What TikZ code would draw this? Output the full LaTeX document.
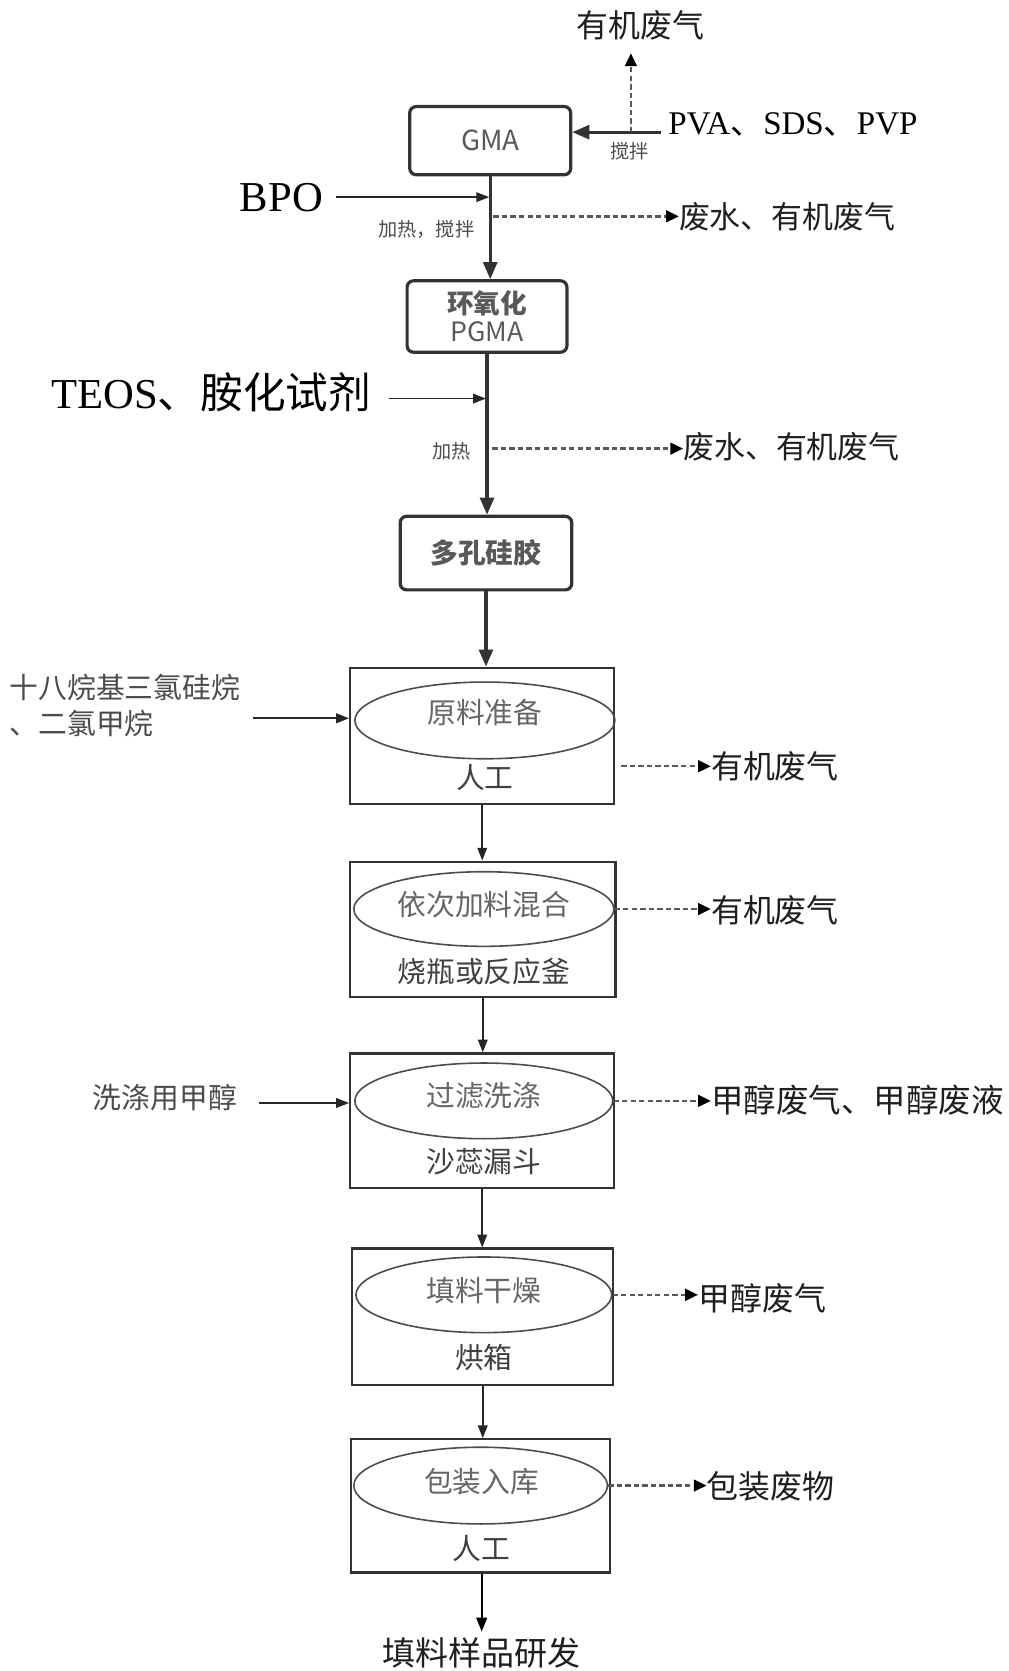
\documentclass[tikz,border=0pt]{standalone}
\usepackage{fontspec}
\setmainfont{Liberation Serif}
\newfontfamily\cjk{Noto Sans CJK SC}
\usetikzlibrary{arrows.meta,shapes.geometric}
\begin{document}
\begin{tikzpicture}[x=1pt,y=-1pt,
  topbox/.style={draw=black!80, line width=3pt, rounded corners=6pt, inner sep=0pt,
     font=\cjk\fontsize{26}{30}\selectfont, text=black!65, align=center},
  procbox/.style={draw=black!80, line width=2pt, inner sep=0pt},
  ell/.style={ellipse, draw=black!70, line width=1.5pt, inner sep=0pt},
  intext/.style={font=\cjk\fontsize{27}{30}\selectfont, text=black!60},
  labtext/.style={font=\cjk\fontsize{27}{30}\selectfont, text=black!75},
  outtext/.style={font=\cjk\fontsize{30}{34}\selectfont, text=black!88, anchor=west, inner sep=0pt},
  lefttext/.style={font=\cjk\fontsize{27}{34}\selectfont, text=black!70, inner sep=0pt},
  smalltext/.style={font=\cjk\fontsize{18}{22}\selectfont, text=black!70},
  bigarr/.style={draw=black!80, line width=3pt, -{Triangle[length=16pt,width=13pt]}},
  arr/.style={draw=black!85, line width=1.6pt, -{Triangle[length=12pt,width=9pt]}},
  darr/.style={draw=black!65, line width=2.3pt, dash pattern=on 5pt off 3pt,
     -{Triangle[length=12pt,width=11pt,color=black]}}
]
\path[use as bounding box, fill=white] (0,0) rectangle (946,1568);

% ---------- upper part ----------
\node[outtext, anchor=center] (og0) at (601,24) {有机废气};
\node[topbox, minimum width=151pt, minimum height=64pt] (gma) at (460,132) {GMA};
\node[font=\fontsize{31}{36}\selectfont, anchor=west, inner sep=0pt] (pva) at (627,117) {PVA{\cjk 、}SDS{\cjk 、}PVP};
\node[smalltext] (jb) at (591,142) {搅拌};
\coordinate (pvaA) at (620,124);
\coordinate (pvaJ) at (592,124);
\coordinate (og0in) at (592,50);
\draw[bigarr] (pvaA) -- (pvaA -| gma.east);
\draw[darr, line width=1.8pt] (pvaJ) -- (og0in);

\node[topbox, minimum width=150pt, minimum height=67pt, font=\cjk\bfseries\fontsize{25}{30}\selectfont] (pgma) at (457,297) {环氧化\\[-4pt]{\mdseries PGMA}};
\node[font=\fontsize{40}{44}\selectfont, anchor=west, inner sep=0pt] (bpo) at (225,185) {BPO};
\coordinate (bpoA) at (315,185);
\coordinate (bpoJ) at (459,185);
\draw[arr, line width=1.4pt] (bpoA) -- (bpoJ);
\draw[bigarr] (gma.south) -- (gma.south |- pgma.north);
\node[smalltext] (jr1) at (400,215) {加热，搅拌};
\coordinate (w1s) at (463,203);
\node[outtext, font=\cjk\fontsize{29}{34}\selectfont] (w1) at (637,203) {废水、有机废气};
\draw[darr] (w1s) -- (w1s -| w1.west);

\node[topbox, minimum width=161pt, minimum height=69pt, font=\cjk\bfseries\fontsize{26}{30}\selectfont] (sil) at (456,519) {多孔硅胶};
\node[font=\fontsize{40}{44}\selectfont, anchor=west, inner sep=0pt] (teos) at (48,368) {TEOS{\cjk 、胺化试剂}};
\coordinate (teosA) at (365,374);
\coordinate (teosJ) at (456,374);
\draw[arr, line width=1.4pt] (teosA) -- (teosJ);
\draw[bigarr] (pgma.south) -- (pgma.south |- sil.north);
\node[smalltext] (jr2) at (424,423) {加热};
\coordinate (w2s) at (462,421);
\node[outtext, font=\cjk\fontsize{29}{34}\selectfont] (w2) at (641,419) {废水、有机废气};
\draw[darr] (w2s) -- (w2s -| w2.west);

% ---------- process boxes ----------
\node[procbox, minimum width=248pt, minimum height=128pt] (b1) at (452.5,690.5) {};
\node[ell, minimum width=244pt, minimum height=72pt] (e1) at (455,676) {};
\node[intext] (t1) at (455,669) {原料准备};
\node[labtext] (l1) at (455,730) {人工};
\draw[bigarr] (sil.south) -- (sil.south |- b1.north);

\node[lefttext, align=left, anchor=north west] (raw) at (9,632) {十八烷基三氯硅烷\\、二氯甲烷};
\coordinate (rawA) at (237,674);
\draw[arr] (rawA) -- (rawA -| b1.west);
\coordinate (o1s) at (583,719);
\node[outtext] (o1) at (667,719) {有机废气};
\draw[darr] (o1s) -- (o1s -| o1.west);

\node[procbox, minimum width=249pt, minimum height=127pt] (b2) at (453,872) {};
\node[ell, minimum width=244pt, minimum height=70pt] (e2) at (454,853) {};
\node[intext] (t2) at (454,849) {依次加料混合};
\node[labtext] (l2) at (454,912) {烧瓶或反应釜};
\draw[arr] (b1.south) -- (b1.south |- b2.north);
\node[outtext] (o2) at (667,854) {有机废气};
\draw[darr] (e2.east) -- (e2.east -| o2.west);

\node[procbox, minimum width=248pt, minimum height=126pt] (b3) at (452.5,1051.5) {};
\node[ell, minimum width=242pt, minimum height=71pt] (e3) at (454,1033) {};
\node[intext] (t3) at (454,1028) {过滤洗涤};
\node[labtext] (l3) at (454,1090) {沙蕊漏斗};
\draw[arr] (b2.south) -- (b2.south |- b3.north);
\node[lefttext, anchor=west] (meoh) at (87,1030) {洗涤用甲醇};
\coordinate (meohA) at (243,1035);
\draw[arr] (meohA) -- (meohA -| b3.west);
\node[outtext, font=\cjk\fontsize{30.5}{34}\selectfont] (o3) at (667,1032) {甲醇废气、甲醇废液};
\draw[darr] (e3.east) -- (e3.east -| o3.west);

\node[procbox, minimum width=245pt, minimum height=128pt] (b4) at (453,1235.5) {};
\node[ell, minimum width=240pt, minimum height=71pt] (e4) at (454,1215) {};
\node[intext] (t4) at (454,1211) {填料干燥};
\node[labtext] (l4) at (454,1274) {烘箱};
\draw[arr] (b3.south) -- (b3.south |- b4.north);
\node[outtext] (o4) at (655,1218) {甲醇废气};
\draw[darr] (e4.east) -- (e4.east -| o4.west);

\node[procbox, minimum width=243pt, minimum height=125pt] (b5) at (451,1413) {};
\node[ell, minimum width=238pt, minimum height=72pt] (e5) at (451,1394) {};
\node[intext] (t5) at (452,1390) {包装入库};
\node[labtext] (l5) at (452,1453) {人工};
\draw[arr] (b4.south) -- (b4.south |- b5.north);
\node[outtext] (o5) at (663,1395) {包装废物};
\draw[darr] (e5.east) -- (e5.east -| o5.west);

\coordinate (finA) at (452,1531);
\draw[draw=black, line width=1.8pt, -{Triangle[length=13pt,width=10pt]}] (b5.south -| finA) -- (finA);
\node[font=\cjk\fontsize{31}{34}\selectfont, text=black!88, inner sep=0pt, anchor=north] (fin) at (452,1536) {填料样品研发};
\end{tikzpicture}
\end{document}
